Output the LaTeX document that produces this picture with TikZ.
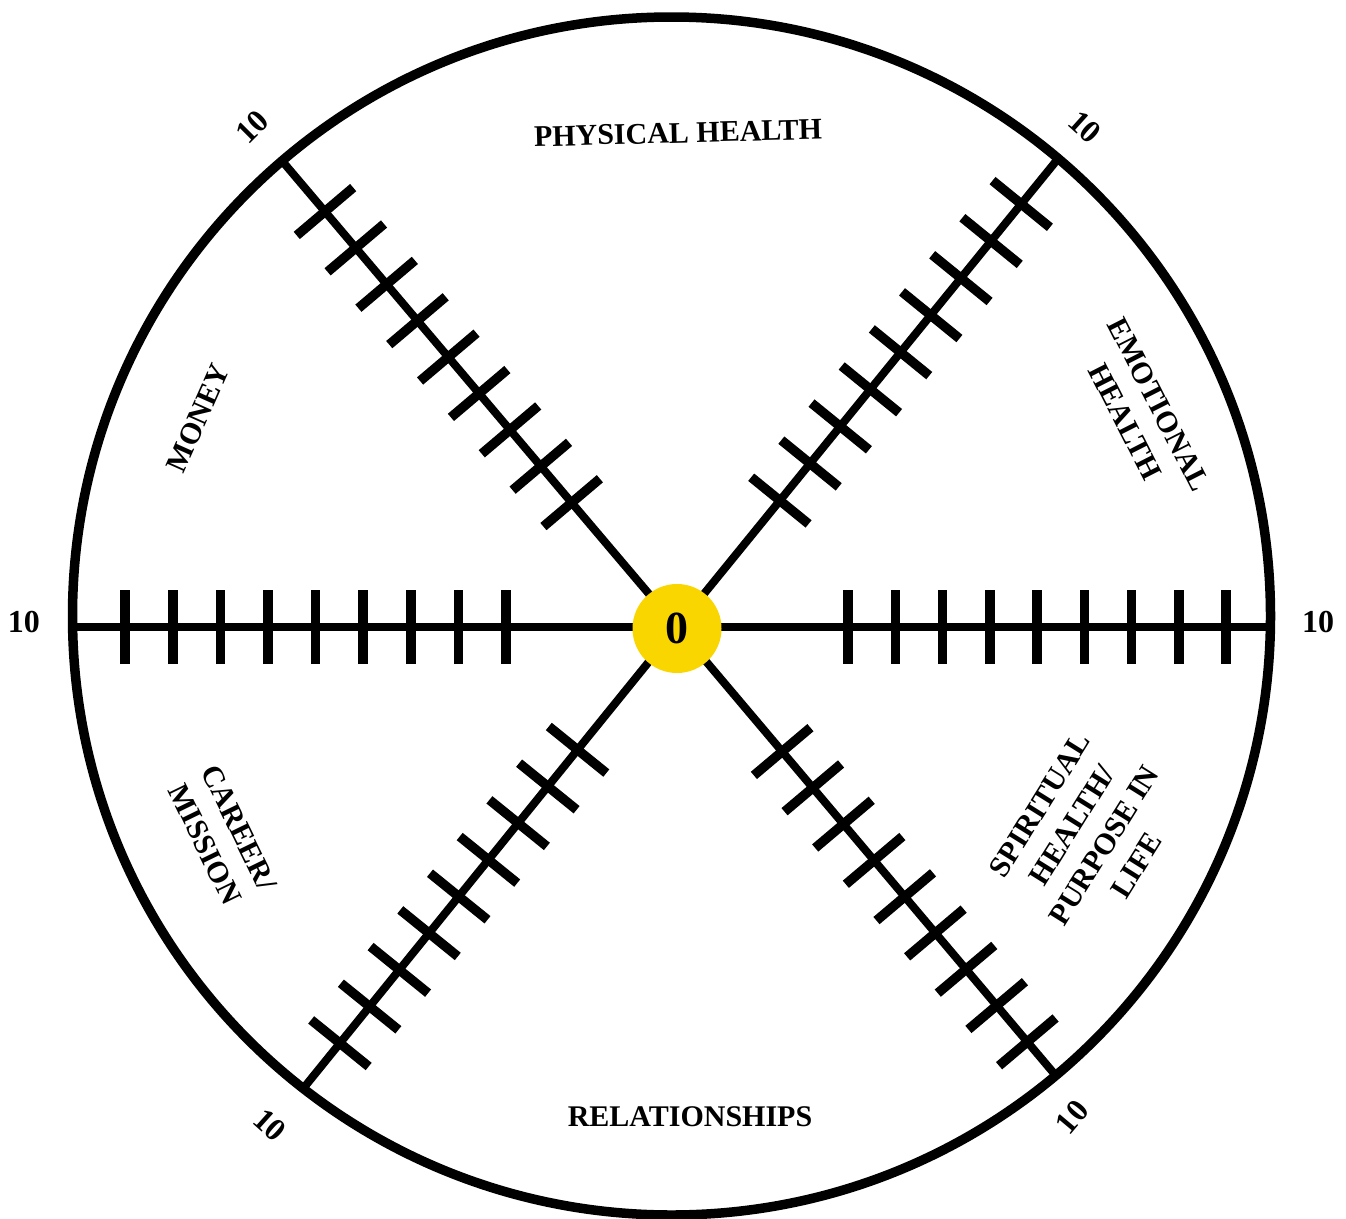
\documentclass[tikz,border=0pt]{standalone}
\usepackage{fontspec}
\setmainfont{Liberation Serif}
\usetikzlibrary{calc}
\definecolor{hubyellow}{RGB}{250,214,0}
\begin{document}
\begin{tikzpicture}[x=1pt,y=-1pt,
  rim/.style={line width=9.5pt},
  spoke/.style={line width=8pt},
  tickmark/.style={line width=9.5pt},
  lbl/.style={font=\fontsize{30}{38}\selectfont\bfseries, align=center, inner sep=0pt},
  numlbl/.style={font=\fontsize{32}{34}\selectfont\bfseries, inner sep=0pt},
]
\useasboundingbox (0,0) rectangle (1346,1218);
\fill[white] (0,0) rectangle (1346,1218);
% outer circle
\node (rimc) [draw, rim, circle, minimum size=1198pt, inner sep=0pt] at (671.5,616) {};
% hub centre and spoke ends
\coordinate (hc) at (677,627);
\coordinate (eUL) at (283,162);
\coordinate (eUR) at (1057,160);
\coordinate (eLL) at (302,1090);
\coordinate (eLR) at (1057,1077);
\coordinate (eL) at (71,627);
\coordinate (eR) at (1272,627);
% spokes
\foreach \e in {eUL,eUR,eLL,eLR,eL,eR}
  \draw[spoke] (hc) -- (\e);
% ticks
\foreach \e/\d/\s in {eUL/163/47.7,eUR/163/47.8,eLL/158/47.2,eLR/163/47.5,eL/171/47.6,eR/171/47.25} {
  \foreach \k in {0,...,8} {
    \pgfmathsetmacro\dd{\d+\s*\k}
    \coordinate (p) at ($(hc)!\dd pt!(\e)$);
    \draw[tickmark] ($(p)!37pt!90:(\e)$) -- ($(p)!37pt!-90:(\e)$);
  }
}
% hub
\node (hub) [circle, fill=hubyellow, minimum size=89pt, inner sep=0pt,
  font=\fontsize{46}{46}\selectfont\bfseries] at (677,628.5) {0};
% category labels
\node[lbl, rotate=1.5] (phys) at (678,133) {PHYSICAL HEALTH};
\node[lbl] (rel) at (690,1117) {RELATIONSHIPS};
\node[lbl, rotate=66] (money) at (198,418) {MONEY};
\node[lbl, rotate=-63] (emo) at (1142,413) {EMOTIONAL\\HEALTH};
\node[lbl, rotate=-64] (career) at (222,836) {CAREER/\\MISSION};
\node[lbl, rotate=58] (spirit) at (1088,835) {SPIRITUAL\\HEALTH/\\PURPOSE IN\\LIFE};
% scale labels
\node[numlbl] (nL) at (24,622) {10};
\node[numlbl] (nR) at (1318,622) {10};
\node[numlbl, rotate=45] (nUL) at (252,127) {10};
\node[numlbl, rotate=-42] (nUR) at (1085,127) {10};
\node[numlbl, rotate=-42] (nLL) at (270,1125) {10};
\node[numlbl, rotate=50] (nLR) at (1072,1117) {10};
\end{tikzpicture}
\end{document}
